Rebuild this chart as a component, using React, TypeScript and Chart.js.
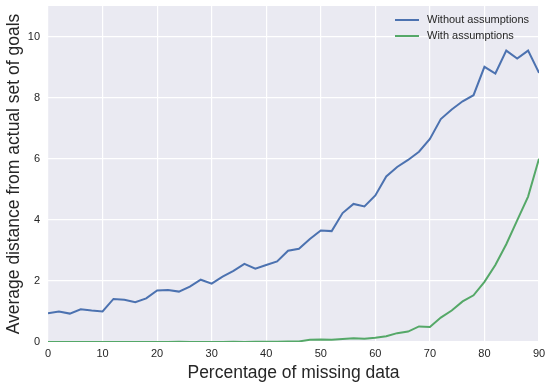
import React, { useEffect, useRef } from "react";
import { Chart, registerables } from "chart.js";

Chart.register(...registerables);

const xValues = [0, 2, 4, 6, 8, 10, 12, 14, 16, 18, 20, 22, 24, 26, 28, 30, 32, 34, 36, 38, 40, 42, 44, 46, 48, 50, 52, 54, 56, 58, 60, 62, 64, 66, 68, 70, 72, 74, 76, 78, 80, 82, 84, 86, 88, 90];
const withoutAssumptions = [0.94, 1.0, 0.93, 1.07, 1.03, 1.0, 1.41, 1.38, 1.3, 1.43, 1.69, 1.7, 1.65, 1.81, 2.04, 1.91, 2.14, 2.33, 2.56, 2.4, 2.52, 2.64, 2.99, 3.05, 3.37, 3.65, 3.63, 4.22, 4.52, 4.44, 4.8, 5.42, 5.73, 5.96, 6.23, 6.65, 7.3, 7.61, 7.88, 8.08, 9.01, 8.79, 9.54, 9.28, 9.54, 8.81];
const withAssumptions = [0, 0, 0, 0, 0, 0, 0, 0, 0, 0, 0, 0, 0.01, 0, 0, 0, 0, 0.01, 0, 0.01, 0.01, 0.01, 0.02, 0.02, 0.07, 0.08, 0.07, 0.1, 0.12, 0.11, 0.14, 0.19, 0.29, 0.34, 0.51, 0.49, 0.8, 1.03, 1.33, 1.53, 1.97, 2.52, 3.2, 3.98, 4.76, 6.0];
const seriesLabels = ["Without assumptions", "With assumptions"];
const seriesColors = ["#4C72B0", "#55A868"];
const xTitle = "Percentage of missing data";
const yTitle = "Average distance from actual set of goals";

const FONT = "'Liberation Sans', Arial, sans-serif";

const bgPlugin = {
  id: "bgPlugin",
  beforeDraw(chart: any) {
    const { ctx, chartArea } = chart;
    ctx.save();
    ctx.fillStyle = "#EAEAF2";
    ctx.fillRect(chartArea.left, chartArea.top, chartArea.right - chartArea.left, chartArea.bottom - chartArea.top);
    ctx.restore();
  },
};

const legendPlugin = {
  id: "innerLegend",
  afterDatasetsDraw(chart: any) {
    const { ctx, chartArea } = chart;
    ctx.save();
    ctx.font = `11px ${FONT}`;
    ctx.textBaseline = "middle";
    ctx.textAlign = "left";
    chart.data.datasets.forEach((ds: any, i: number) => {
      const y = chartArea.top + 14 + i * 16;
      const x0 = chartArea.right - 144;
      ctx.strokeStyle = ds.borderColor;
      ctx.lineWidth = 2;
      ctx.beginPath();
      ctx.moveTo(x0, y);
      ctx.lineTo(x0 + 24, y);
      ctx.stroke();
      ctx.fillStyle = "#262626";
      ctx.fillText(ds.label, x0 + 32, y);
    });
    ctx.restore();
  },
};

export default function App() {
  const ref = useRef<HTMLCanvasElement>(null);
  useEffect(() => {
    document.body.style.margin = "0";
    const canvas = ref.current!;
    const chart = new Chart(canvas, {
      type: "line",
      data: {
        datasets: [withoutAssumptions, withAssumptions].map((vals, i) => ({
          label: seriesLabels[i],
          data: xValues.map((x, j) => ({ x, y: vals[j] })),
          borderColor: seriesColors[i],
          backgroundColor: seriesColors[i],
          borderWidth: 2,
          pointRadius: 0,
          tension: 0,
          fill: false,
        })),
      },
      options: {
        animation: false,
        responsive: false,
        maintainAspectRatio: false,
        layout: { padding: { top: 6, right: 11, left: 0, bottom: 0 } },
        plugins: { legend: { display: false }, tooltip: { enabled: false } },
        scales: {
          x: {
            type: "linear",
            min: 0,
            max: 90,
            border: { display: false },
            grid: { color: "#FFFFFF", lineWidth: 1.2, drawTicks: false },
            ticks: { stepSize: 10, color: "#262626", font: { family: FONT, size: 11 }, padding: 5 },
            title: { display: true, text: xTitle, color: "#262626", font: { family: FONT, size: 17.5 }, padding: { top: 0, bottom: 4 } },
            afterFit(scale: any) { scale.height = 46; scale.paddingLeft = 0; scale.paddingRight = 0; },
          },
          y: {
            type: "linear",
            min: 0,
            max: 11,
            border: { display: false },
            grid: { color: "#FFFFFF", lineWidth: 1.2, drawTicks: false },
            ticks: { stepSize: 2, includeBounds: false, color: "#262626", font: { family: FONT, size: 11 }, padding: 8 },
            title: { display: true, text: yTitle, color: "#262626", font: { family: FONT, size: 17.5 }, padding: { top: 4, bottom: 0 } },
            afterFit(scale: any) { scale.width = 48; scale.paddingTop = 0; scale.paddingBottom = 0; },
          },
        },
      },
      plugins: [bgPlugin, legendPlugin],
    } as any);
    return () => chart.destroy();
  }, []);
  return (
    <div style={{ width: 550, height: 388 }}>
      <canvas ref={ref} width={550} height={388} style={{ display: "block" }} />
    </div>
  );
}
